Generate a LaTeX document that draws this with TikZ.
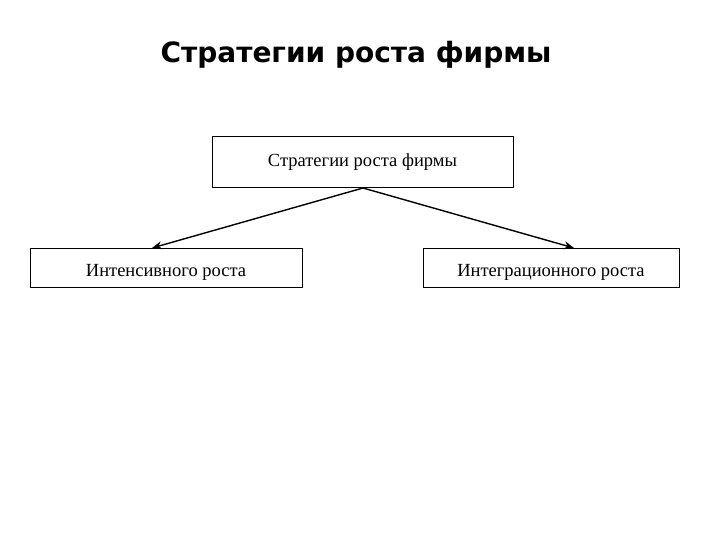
\documentclass[tikz,border=0pt]{standalone}
\usepackage{fontspec}
\setmainfont{Liberation Serif}
\newfontfamily\titlefont{DejaVu Sans}
\usetikzlibrary{arrows.meta}
\begin{document}
\begin{tikzpicture}[x=1pt,y=-1pt,
  box/.style={draw=black, line width=1pt, minimum height=39pt, inner sep=0pt, font=\fontsize{18.5}{20}\selectfont},
  lowbox/.style={box, text height=17pt, text depth=0pt},
  conn/.style={line width=1.4pt, -{Stealth[length=10pt,width=8pt]}}]
\useasboundingbox (0,0) rectangle (720,540);
\node[font=\titlefont\bfseries\fontsize{28}{32}\selectfont] (title) at (356,55) {Стратегии роста фирмы};
\node[box, minimum width=301pt, minimum height=51pt] (top) at (362.5,162.5) {Стратегии роста фирмы};
\node[lowbox, minimum width=272pt] (left) at (166,268) {Интенсивного роста};
\node[lowbox, minimum width=256pt] (right) at (551,268) {Интеграционного роста};
\coordinate (apex) at (363,188);
\draw[conn] (apex) -- (left.north -| 152,0);
\draw[conn] (apex) -- (right.north -| 574,0);
\end{tikzpicture}
\end{document}
